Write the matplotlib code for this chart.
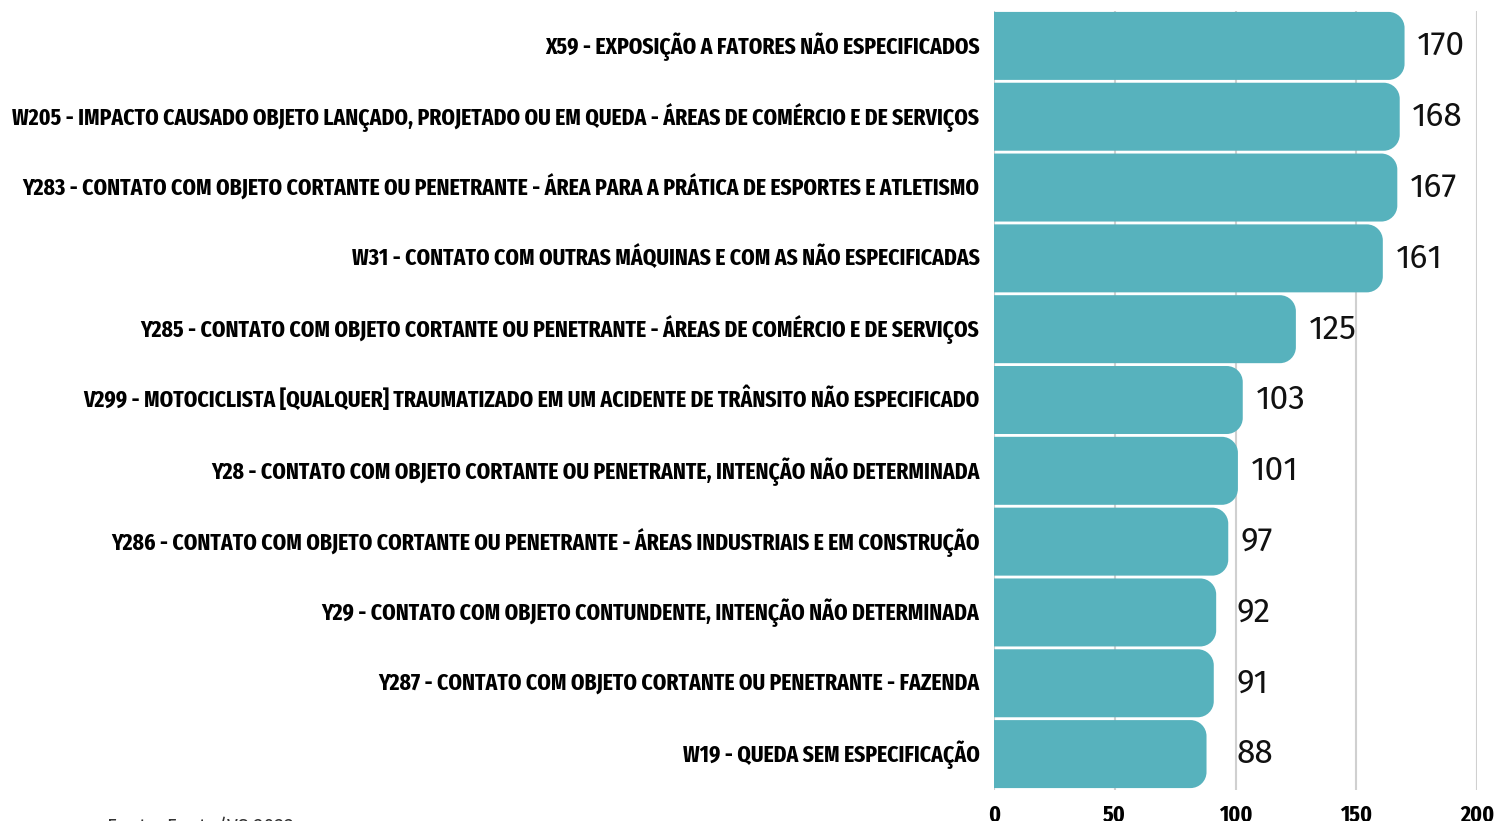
import matplotlib
matplotlib.use("Agg")
import matplotlib.pyplot as plt
from matplotlib.path import Path
from matplotlib.patches import PathPatch
from matplotlib.transforms import ScaledTranslation

categories = [
    "X59 - EXPOSIÇÃO A FATORES NÃO ESPECIFICADOS",
    "W205 - IMPACTO CAUSADO OBJETO LANÇADO, PROJETADO OU EM QUEDA - ÁREAS DE COMÉRCIO E DE SERVIÇOS",
    "Y283 - CONTATO COM OBJETO CORTANTE OU PENETRANTE - ÁREA PARA A PRÁTICA DE ESPORTES E ATLETISMO",
    "W31 - CONTATO COM OUTRAS MÁQUINAS E COM AS NÃO ESPECIFICADAS",
    "Y285 - CONTATO COM OBJETO CORTANTE OU PENETRANTE - ÁREAS DE COMÉRCIO E DE SERVIÇOS",
    "V299 - MOTOCICLISTA [QUALQUER] TRAUMATIZADO EM UM ACIDENTE DE TRÂNSITO NÃO ESPECIFICADO",
    "Y28 - CONTATO COM OBJETO CORTANTE OU PENETRANTE, INTENÇÃO NÃO DETERMINADA",
    "Y286 - CONTATO COM OBJETO CORTANTE OU PENETRANTE - ÁREAS INDUSTRIAIS E EM CONSTRUÇÃO",
    "Y29 - CONTATO COM OBJETO CONTUNDENTE, INTENÇÃO NÃO DETERMINADA",
    "Y287 - CONTATO COM OBJETO CORTANTE OU PENETRANTE - FAZENDA",
    "W19 - QUEDA SEM ESPECIFICAÇÃO",
]
values = [170, 168, 167, 161, 125, 103, 101, 97, 92, 91, 88]
xticks = [0, 50, 100, 150, 200]
source = "Fonte: Fonte/VS 2022"

BAR_COLOR = "#57b2bd"
LABEL_FONT = ["Fira Sans Extra Condensed", "DejaVu Sans"]
VALUE_FONT = ["Fira Sans", "DejaVu Sans"]
W, H, DPI = 1497, 821, 100

fig = plt.figure(figsize=(W / DPI, H / DPI), dpi=DPI)
ax = fig.add_axes([994 / W, 1 - 789.5 / H, (1477 - 994) / W, (789.5 - 10.5) / H])

ypos = list(range(len(values)))
bar_h = 0.96
bars = ax.barh(ypos, values, height=bar_h, color="none", edgecolor="none")
ax.set_xlim(0, 200)
ax.set_ylim(len(values) - 0.5, -0.5)

# rounded right corners (radius in pixels converted to data units)
px_per_x = (1477 - 994) / 200.0
px_per_y = (789.5 - 10.5) / len(values)
r_px = 16
rx = r_px / px_per_x
ry = r_px / px_per_y
k = 0.5523
for b in bars:
    x0, y0 = b.get_x(), b.get_y()
    x1, y1 = x0 + b.get_width(), y0 + b.get_height()
    verts = [
        (x0, y0),
        (x1 - rx, y0),
        (x1 - rx + k * rx, y0), (x1, y0 + ry - k * ry), (x1, y0 + ry),
        (x1, y1 - ry),
        (x1, y1 - ry + k * ry), (x1 - rx + k * rx, y1), (x1 - rx, y1),
        (x0, y1),
        (x0, y0),
    ]
    codes = [Path.MOVETO, Path.LINETO,
             Path.CURVE4, Path.CURVE4, Path.CURVE4,
             Path.LINETO,
             Path.CURVE4, Path.CURVE4, Path.CURVE4,
             Path.LINETO, Path.CLOSEPOLY]
    ax.add_patch(PathPatch(Path(verts, codes), facecolor=BAR_COLOR,
                           edgecolor="none", zorder=2))

ax.set_xticks(xticks)
ax.set_xticklabels([str(t) for t in xticks], family=LABEL_FONT,
                   fontweight="bold", fontsize=17)
ax.set_yticks(ypos)
ax.set_yticklabels(categories, family=LABEL_FONT,
                   fontweight="bold", fontsize=16.9)
ax.tick_params(axis="both", length=0)
ax.tick_params(axis="y", pad=10.5)
ax.tick_params(axis="x", pad=10)
shift = ScaledTranslation(0, 3 / 72 * 0.72, fig.dpi_scale_trans)
for lbl in ax.get_yticklabels():
    lbl.set_verticalalignment("center_baseline")
    lbl.set_transform(lbl.get_transform() + shift)
for s in ax.spines.values():
    s.set_visible(False)
ax.grid(axis="x", color="#d0d0d0", linewidth=1.5, zorder=0)
ax.set_axisbelow(True)

for y, v in zip(ypos, values):
    ax.text(max(v + 5.2, 100.4), y, str(v), ha="left", va="center",
            family=VALUE_FONT, fontsize=24, color="#111111", zorder=3)

fig.text(107 / W, 1 - 817 / H, source, ha="left", va="top",
         family=VALUE_FONT, fontsize=14, color="#333333")

fig.savefig("out.png", dpi=DPI)
